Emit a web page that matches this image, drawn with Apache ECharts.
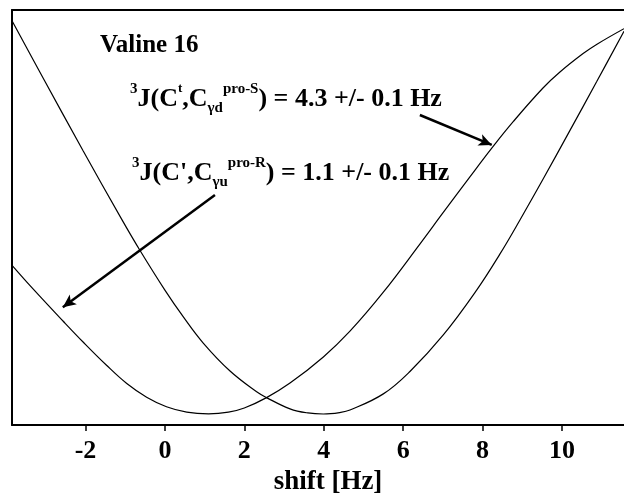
<!DOCTYPE html>
<html>
<head>
<meta charset="utf-8">
<script src="https://cdn.jsdelivr.net/npm/echarts@6/dist/echarts.min.js"></script>
<style>html,body{margin:0;padding:0;background:#fff}#c{width:624px;height:496px}</style>
</head>
<body>
<div id="c"></div>
<script>
// Curve with minimum near 1.1 Hz
const shiftA = [-3.86,-3.32,-2.56,-2.06,-1.47,-0.96,-0.46,0.04,0.55,1.1,1.6,2.0,2.56,3.15,3.99,4.66,5.50,6.42,7.00,7.68,8.27,8.77,9.52,9.94,10.53,10.87,11.56];
const valueA = [38.6,32.8,25.0,20.0,14.4,10.0,6.7,4.4,3.1,2.7,3.1,4.1,6.6,10.1,16.4,22.6,32.0,43.6,51.1,59.8,67.2,73.1,81.2,85.0,89.5,91.7,95.5];
// Curve with minimum near 4 Hz
const shiftB = [-3.86,-3.06,-2.06,-1.09,-0.63,0.0,0.46,0.96,1.64,2.31,2.56,3.15,3.6,3.99,4.4,4.66,5.50,6.17,7.01,7.85,8.43,8.94,9.52,10.20,10.87,11.56];
const valueB = [97.6,83.5,66.1,49.6,42.1,32.5,26.1,19.8,13.0,8.0,6.6,3.9,2.9,2.65,3.0,3.6,7.5,12.9,21.7,32.5,41.1,49.4,59.2,71.0,82.7,94.9];
const xTicks = [-2,0,2,4,6,8,10];
// Annotation arrows [fromShift, fromValue, toShift, toValue]
const arrowProS = [6.42, 74.7, 8.23, 67.5];
const arrowProR = [1.26, 55.4, -2.57, 28.4];

const FONT = '"Liberation Serif","Times New Roman",serif';
const zip = (xs, ys) => xs.map((x, i) => [x, ys[i]]);
const chart = echarts.init(document.getElementById('c'));
const rich = {
  m: {fontFamily: FONT, fontWeight: 'bold', fontSize: 26, lineHeight: 34, color: '#000'},
  s: {fontFamily: FONT, fontWeight: 'bold', fontSize: 15, lineHeight: 10, verticalAlign: 'top', color: '#000'},
  t: {fontFamily: FONT, fontWeight: 'bold', fontSize: 13, lineHeight: 12, verticalAlign: 'top', color: '#000'},
  b: {fontFamily: FONT, fontWeight: 'bold', fontSize: 15, lineHeight: 24, verticalAlign: 'bottom', color: '#000'}
};
const axisLine = {show: true, onZero: false, lineStyle: {color: '#000', width: 2}};
chart.setOption({
  animation: false,
  grid: {left: 12, right: 0, top: 10, bottom: 71, containLabel: false, outerBoundsMode: 'none'},
  xAxis: [{
    type: 'value', min: -3.85, max: 11.56, position: 'bottom',
    axisLine: axisLine,
    axisTick: {show: true, customValues: xTicks, length: 6, lineStyle: {color: '#000', width: 1.5}},
    axisLabel: {customValues: xTicks, fontFamily: FONT, fontWeight: 'bold', fontSize: 26, color: '#000', margin: 13},
    splitLine: {show: false},
    name: 'shift [Hz]', nameLocation: 'middle', nameGap: 44,
    nameTextStyle: {fontFamily: FONT, fontWeight: 'bold', fontSize: 27, color: '#000', padding: [0, 0, 0, 20]}
  }, {
    type: 'value', min: -3.85, max: 11.56, position: 'top',
    axisLine: axisLine, axisTick: {show: false}, axisLabel: {show: false}, splitLine: {show: false}
  }],
  yAxis: {
    type: 'value', min: 0, max: 100, position: 'left',
    axisLine: axisLine, axisTick: {show: false}, axisLabel: {show: false}, splitLine: {show: false}
  },
  series: [{
    type: 'line', data: zip(shiftA, valueA), smooth: 0.4, showSymbol: false,
    lineStyle: {color: '#000', width: 1.2},
    markLine: {
      silent: true, symbol: ['none', 'arrow'], symbolSize: [9, 13],
      lineStyle: {color: '#000', width: 2.5, type: 'solid'}, label: {show: false},
      data: [
        [{coord: [arrowProS[0], arrowProS[1]]}, {coord: [arrowProS[2], arrowProS[3]]}],
        [{coord: [arrowProR[0], arrowProR[1]]}, {coord: [arrowProR[2], arrowProR[3]]}]
      ]
    }
  }, {
    type: 'line', data: zip(shiftB, valueB), smooth: 0.4, showSymbol: false,
    lineStyle: {color: '#000', width: 1.2}
  }],
  graphic: [
    {type: 'text', left: 100, top: 33, style: {text: 'Valine 16', font: 'bold 25px ' + FONT, fill: '#000'}},
    {type: 'text', left: 130, top: 82, style: {text: '{s|3}{m|J(C}{t|t}{m|,C}{b|γd}{s|pro-S}{m|) = 4.3 +/- 0.1 Hz}', rich: rich}},
    {type: 'text', left: 132, top: 156, style: {text: '{s|3}{m|J(C\',C}{b|γu}{s|pro-R}{m|) = 1.1 +/- 0.1 Hz}', rich: rich}}
  ]
});
</script>
</body>
</html>
